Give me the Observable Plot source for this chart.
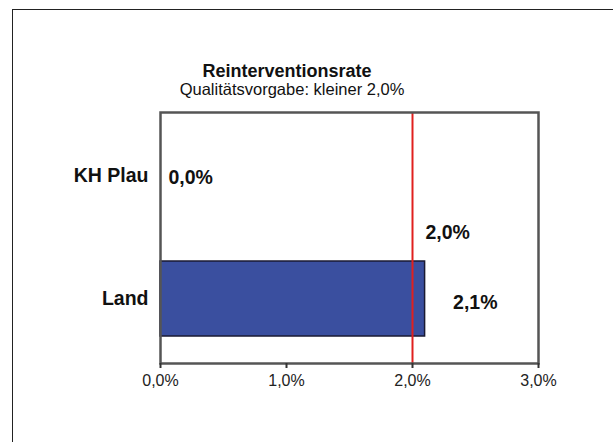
<!DOCTYPE html>
<html>
<head>
<meta charset="utf-8">
<script src="https://cdn.jsdelivr.net/npm/d3@7"></script>
<script src="https://cdn.jsdelivr.net/npm/@observablehq/plot@0.6"></script>
<style>
  html, body { margin: 0; padding: 0; background: #fff; }
  #wrap { position: relative; width: 613px; height: 442px; overflow: hidden; font-family: "Liberation Sans", Arial, sans-serif; }
  #outer { position: absolute; left: 12px; top: 9px; width: 800px; height: 600px; border-left: 1.5px solid #222; border-top: 1.5px solid #222; box-sizing: border-box; }
  .ttl { position: absolute; white-space: nowrap; transform: translateX(-50%); color: #111; }
  #title { left: 287px; top: 61px; font-size: 18px; font-weight: bold; }
  #subtitle { left: 292px; top: 80px; font-size: 16.5px; }
  #chart { position: absolute; left: 0; top: 0; }
</style>
</head>
<body>
<div id="wrap">
  <div id="outer"></div>
  <div id="chart"></div>
  <div class="ttl" id="title">Reinterventionsrate</div>
  <div class="ttl" id="subtitle">Qualitätsvorgabe: kleiner 2,0%</div>
</div>
<script>
const categories = ["KH Plau", "Land"];
const values = [0.0, 2.1];
const target = 2.0;
const xTicks = [0, 1, 2, 3];

const data = categories.map((name, i) => ({name, value: values[i]}));
const fmt = d => d.toFixed(1).replace(".", ",") + "%";
const font = "Liberation Sans, Arial, sans-serif";

const chart = Plot.plot({
  width: 613,
  height: 442,
  marginLeft: 160,
  marginRight: 75,
  marginTop: 112,
  marginBottom: 79,
  style: {fontFamily: font, background: "transparent", color: "#111"},
  x: {domain: [0, 3], label: null},
  y: {domain: categories, paddingInner: 0.39, paddingOuter: 0.215, label: null},
  marks: [
    Plot.barX(data, {x: "value", y: "name", fill: "#3a4f9f", stroke: "#1a1a33", strokeWidth: 1.5}),
    Plot.ruleX([target], {x: d => d, stroke: "#e0201e", strokeWidth: 2}),
    Plot.frame({stroke: "#555", strokeWidth: 2.5}),
    Plot.axisX({ticks: xTicks, tickFormat: fmt, tickSize: 5, tickPadding: 6, fontSize: 16, stroke: "#333", strokeWidth: 2, fill: "#222", label: null}),
    Plot.axisY({tickSize: 0, tickPadding: 12, fontSize: 19.5, fontWeight: "bold", fill: "#111", label: null}),
    Plot.text(data.filter(d => d.name === "KH Plau"), {x: "value", y: "name", text: d => fmt(d.value), textAnchor: "start", dx: 8, dy: 2, fontSize: 19.5, fontWeight: "bold", fill: "#111"}),
    Plot.text(data.filter(d => d.name === "Land"), {x: "value", y: "name", text: d => fmt(d.value), textAnchor: "start", dx: 28, dy: 4, fontSize: 19.5, fontWeight: "bold", fill: "#111"}),
    Plot.text([target], {x: d => d, y: () => "Land", text: d => fmt(d), textAnchor: "start", dx: 13, dy: -66, fontSize: 19.5, fontWeight: "bold", fill: "#111"})
  ]
});
document.getElementById("chart").appendChild(chart);
</script>
</body>
</html>
